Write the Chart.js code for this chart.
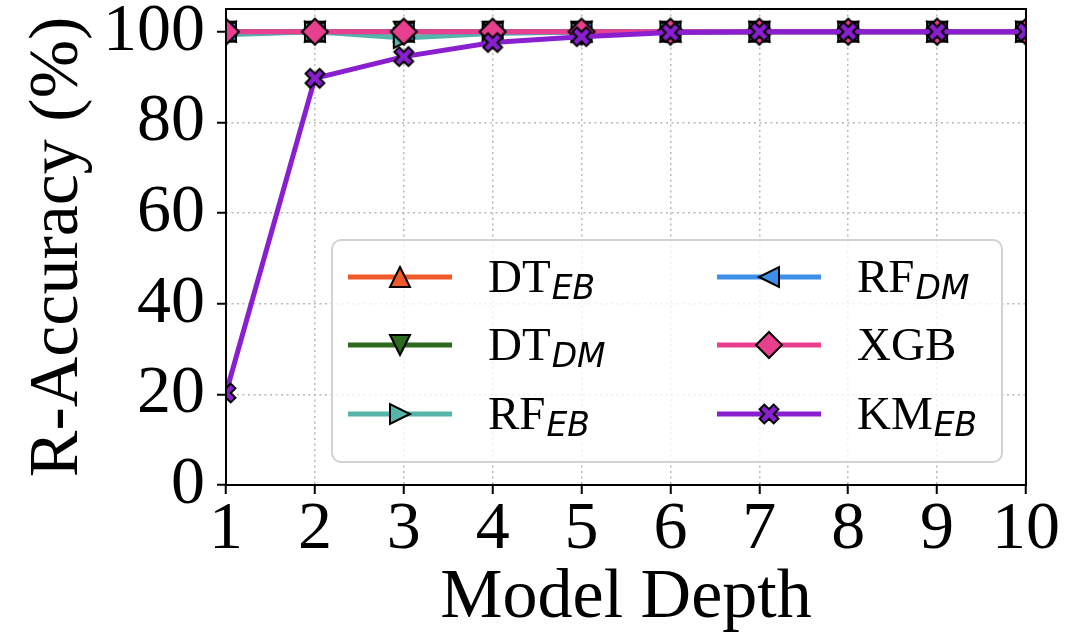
<!DOCTYPE html>
<html>
<head>
<meta charset="utf-8">
<title>R-Accuracy vs Model Depth</title>
<script src="https://cdn.jsdelivr.net/npm/chart.js@4.4.1/dist/chart.umd.min.js"></script>
<style>
  html, body { margin: 0; padding: 0; background: #fff; }
  #wrap { width: 1078px; height: 643px; }
</style>
</head>
<body>
<div id="wrap"><canvas id="jsAccuracyCanvas" width="1078" height="643"></canvas></div>
<script>
// data
const depths = [1, 2, 3, 4, 5, 6, 7, 8, 9, 10];
const dtEB = [100, 100, 100, 100, 100, 100, 100, 100, 100, 100];
const dtDM = [100, 100, 100, 100, 100, 100, 100, 100, 100, 100];
const rfEB = [99.3, 100, 98.6, 99.6, 99.9, 100, 100, 100, 100, 100];
const rfDM = [100, 100, 100, 100, 100, 100, 100, 100, 100, 100];
const xgb = [100, 100, 100, 100, 100, 100, 100, 100, 100, 100];
const kmEB = [20.3, 89.7, 94.5, 97.6, 98.9, 99.8, 100, 100, 100, 100];

const yTicks = [0, 20, 40, 60, 80, 100];
const seriesNames = ["DT", "DT", "RF", "RF", "XGB", "KM"];
const seriesSubs = ["EB", "DM", "EB", "DM", "", "EB"];
const seriesValues = [dtEB, dtDM, rfEB, rfDM, xgb, kmEB];
const seriesColors = ["#f0592a", "#2b6a1f", "#56b4aa", "#3d8fe8", "#e8408f", "#8a1fcf"];
const seriesMarkers = ["^", "v", ">", "<", "D", "X"];

const serif = "'Liberation Serif', 'Times New Roman', serif";
const gridColor = "#b8b8b8";

// matplotlib-like filled markers with a black edge
const makeMarker = (shape, fill) => {
  const size = 34;
  const c = document.createElement("canvas");
  c.width = size;
  c.height = size;
  const ctx = c.getContext("2d");
  ctx.translate(size / 2, size / 2);
  ctx.beginPath();
  const s = 10;
  if (shape === "^") {
    ctx.moveTo(0, -s); ctx.lineTo(s, s); ctx.lineTo(-s, s);
  } else if (shape === "v") {
    ctx.moveTo(0, s); ctx.lineTo(s, -s); ctx.lineTo(-s, -s);
  } else if (shape === ">") {
    ctx.moveTo(s, 0); ctx.lineTo(-s, s); ctx.lineTo(-s, -s);
  } else if (shape === "<") {
    ctx.moveTo(-s, 0); ctx.lineTo(s, s); ctx.lineTo(s, -s);
  } else if (shape === "D") {
    const d = 13;
    ctx.moveTo(0, -d); ctx.lineTo(d, 0); ctx.lineTo(0, d); ctx.lineTo(-d, 0);
  } else if (shape === "X") {
    const pts = [[-1, -3], [-1, -1], [-3, -1], [-3, 1], [-1, 1], [-1, 3],
                 [1, 3], [1, 1], [3, 1], [3, -1], [1, -1], [1, -3]];
    const k = 20 / 6;
    const a = Math.PI / 4;
    pts.forEach(([px, py], i) => {
      const rx = (px * Math.cos(a) - py * Math.sin(a)) * k;
      const ry = (px * Math.sin(a) + py * Math.cos(a)) * k;
      if (i === 0) ctx.moveTo(rx, ry); else ctx.lineTo(rx, ry);
    });
  }
  ctx.closePath();
  ctx.fillStyle = fill;
  ctx.fill();
  ctx.lineWidth = 2;
  ctx.lineJoin = "miter";
  ctx.strokeStyle = "#000";
  ctx.stroke();
  return c;
};

const markerImages = seriesMarkers.map((m, i) => makeMarker(m, seriesColors[i]));

const datasets = seriesValues.map((vals, i) => ({
  label: seriesNames[i] + (seriesSubs[i] ? "_" + seriesSubs[i] : ""),
  data: depths.map((d, j) => ({ x: d, y: vals[j] })),
  borderColor: seriesColors[i],
  backgroundColor: seriesColors[i],
  borderWidth: 5,
  tension: 0,
  pointStyle: markerImages[i],
  pointRadius: 1, // image markers ignore radius; keep it small so layout adds no overflow
  pointBorderWidth: 0,
  order: seriesValues.length - 1 - i, // later series on top, like matplotlib
  clip: 0,
}));

// black box round the plot area
const framePlugin = {
  id: "frame",
  afterDatasetsDraw(chart) {
    const { ctx, chartArea: { left, top, right, bottom } } = chart;
    ctx.save();
    ctx.strokeStyle = "#000";
    ctx.lineWidth = 2;
    ctx.strokeRect(left, top, right - left, bottom - top);
    ctx.restore();
  },
};

// two-column legend with subscripts
const legendPlugin = {
  id: "subLegend",
  afterDraw(chart) {
    const { ctx } = chart;
    ctx.save();
    ctx.beginPath();
    ctx.roundRect(332, 240, 670, 222, 9);
    ctx.fillStyle = "rgba(255,255,255,0.8)";
    ctx.fill();
    ctx.strokeStyle = "#d2d2d2";
    ctx.lineWidth = 2;
    ctx.stroke();

    const rows = [277, 345, 414];
    const cols = [348, 717];
    seriesNames.forEach((name, i) => {
      const col = Math.floor(i / 3);
      const y = rows[i % 3];
      const x0 = cols[col];
      ctx.beginPath();
      ctx.moveTo(x0, y);
      ctx.lineTo(x0 + 104, y);
      ctx.strokeStyle = seriesColors[i];
      ctx.lineWidth = 5;
      ctx.stroke();
      const img = markerImages[i];
      ctx.drawImage(img, x0 + 52 - img.width / 2, y - img.height / 2);

      const tx = x0 + 140;
      ctx.fillStyle = "#000";
      ctx.textBaseline = "alphabetic";
      ctx.textAlign = "left";
      ctx.font = "47px " + serif;
      ctx.fillText(name, tx, y + 15);
      if (seriesSubs[i]) {
        const w = ctx.measureText(name).width;
        ctx.font = "italic 33px 'DejaVu Sans'";
        ctx.fillText(seriesSubs[i], tx + w + 1, y + 22);
      }
    });
    ctx.restore();
  },
};

const accuracyCanvas = document.getElementById("jsAccuracyCanvas").getContext("2d");

const accuracyChart = new Chart(accuracyCanvas, {
  type: "line",
  data: { datasets },
  options: {
    responsive: false,
    animation: false,
    devicePixelRatio: 1,
    layout: { padding: { top: 9, right: 52, left: 0, bottom: 0 } },
    plugins: {
      legend: { display: false },
      tooltip: { enabled: false },
    },
    scales: {
      x: {
        type: "linear",
        min: 1,
        max: 10,
        ticks: {
          stepSize: 1,
          color: "#000",
          padding: 2,
          font: { family: serif, size: 68, lineHeight: 1 },
          maxRotation: 0,
        },
        grid: {
          color: gridColor,
          lineWidth: 1.5,
          tickColor: "#000",
          tickWidth: 2,
          tickLength: 9,
          tickBorderDash: [],
        },
        border: { display: false, dash: [2, 3.5] },
        title: {
          display: true,
          text: "Model Depth",
          color: "#000",
          font: { family: serif, size: 70, lineHeight: 1 },
          padding: { top: 0, bottom: 9 },
        },
        afterFit: (scale) => {
          scale.height = 158;
          scale.paddingLeft = 0;
          scale.paddingRight = 0;
        },
      },
      y: {
        min: 0,
        max: 105,
        ticks: {
          stepSize: 20,
          includeBounds: false,
          color: "#000",
          padding: 12,
          font: { family: serif, size: 68, lineHeight: 1 },
          callback: (value) => (yTicks.includes(value) ? String(value) : ""),
        },
        grid: {
          color: gridColor,
          lineWidth: 1.5,
          tickColor: "#000",
          tickWidth: 2,
          tickLength: 9,
          tickBorderDash: [],
        },
        border: { display: false, dash: [2, 3.5] },
        title: {
          display: true,
          text: "R-Accuracy (%)",
          color: "#000",
          font: { family: serif, size: 70, lineHeight: 1 },
          padding: { top: 24, bottom: 0 },
        },
        afterFit: (scale) => {
          scale.width = 226;
          scale.paddingTop = 0;
          scale.paddingBottom = 0;
        },
      },
    },
  },
  plugins: [framePlugin, legendPlugin],
});
</script>
</body>
</html>
